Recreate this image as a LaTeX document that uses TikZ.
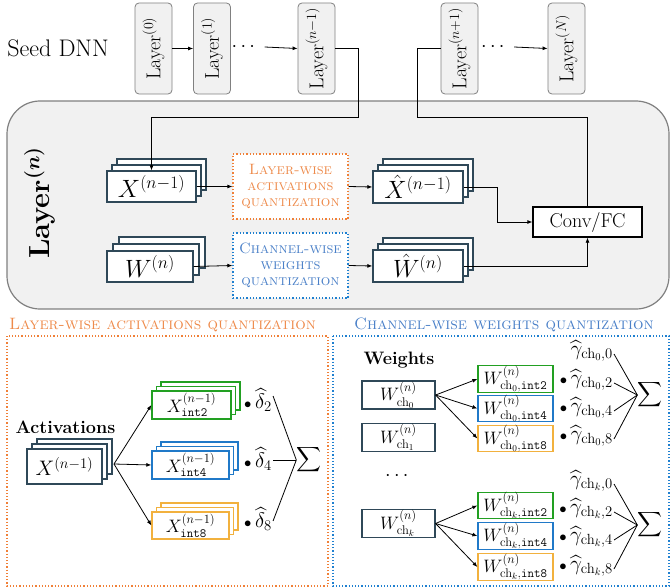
\RequirePackage{fix-cm}
\documentclass[tikz,border=0pt]{standalone}
\usepackage{amsmath}
\usepackage{graphicx}
\usetikzlibrary{arrows.meta,shadows}
\definecolor{slate}{HTML}{2F4858}
\definecolor{grn}{HTML}{22A022}
\definecolor{blu}{HTML}{2079C8}
\definecolor{ylw}{HTML}{F2B13E}
\definecolor{orgtxt}{HTML}{EE8A4A}
\definecolor{blutxt}{HTML}{4A80C8}
\definecolor{orgdot}{HTML}{F08038}
\definecolor{bludot}{HTML}{1F80D0}
\definecolor{bgray}{HTML}{F1F1F1}
\definecolor{lgray}{HTML}{808080}
\tikzset{
  fsz/.style={font=\fontsize{#1}{#1}\selectfont},
  con/.style={line width=0.8pt, -{Latex[length=5pt,width=4pt]}},
  plain/.style={line width=0.8pt},
  lay/.style={draw=lgray, fill=bgray, rounded corners=4pt, minimum width=37pt,
    minimum height=91pt, inner sep=0pt, line width=0.8pt},
  stk/.style n args={3}{draw=#1, fill=white, line width=1.3pt, inner sep=0pt,
    general shadow={shadow xshift=#2*2, shadow yshift=#3*2, fill=white, draw=#1, line width=1.3pt},
    general shadow={shadow xshift=#2, shadow yshift=#3, fill=white, draw=#1, line width=1.3pt}},
  qbox/.style={draw=#1, dotted, line width=1.3pt, fill=white, minimum width=115pt,
    minimum height=65pt, inner sep=0pt, align=center,
    font=\fontsize{15}{16}\selectfont\scshape},
  wbox/.style={draw=#1, fill=white, line width=1.2pt, minimum width=75pt,
    minimum height=26pt, inner sep=0pt, font=\fontsize{18}{18}\selectfont},
  lab/.style={inner sep=0pt, font=\fontsize{21}{21}\selectfont},
  sig/.style={inner sep=0pt, font=\fontsize{18}{18}\selectfont},
}
\newcommand{\laytxt}[1]{\rotatebox{90}{\fontsize{20}{20}\selectfont Layer$^{(#1)}$}}
\newcommand{\mydot}{{\scriptstyle\bullet}\,}
\begin{document}
\begin{tikzpicture}[x=1pt,y=-1pt]
\useasboundingbox (0,0) rectangle (671,588);
% ---------- top row ----------
\node[fsz=24] (seed) at (58,48) {Seed DNN};
\node[lay] (L0) at (153.5,48.5) {\laytxt{0}};
\node[lay] (L1) at (212,48.5) {\laytxt{1}};
\node[fsz=20, inner sep=0pt] (dA) at (245,47) {$\cdots$};
\node[lay] (Lm) at (316.5,48.5) {\laytxt{n-1}};
\node[lay] (Lp) at (459.5,48.5) {\laytxt{n+1}};
\node[fsz=20, inner sep=0pt] (dB) at (494.5,47) {$\cdots$};
\node[lay] (LN) at (566.5,48.5) {\laytxt{N}};
\draw[con] (L0) -- (L1);
\draw[con] (dA.east) ++(6,0) -- (Lm.west);
\draw[con] (dB.east) ++(6,0) -- (LN.west);
% ---------- layer (n) ----------
\draw[draw=lgray, fill=bgray, line width=1.2pt, rounded corners=33pt] (7,101) rectangle (669,309);
\node (lname) at (40,203) {\rotatebox{90}{\fontsize{29}{29}\selectfont\bfseries\boldmath Layer$^{(n)}$}};
\node[stk={slate}{5pt}{6pt}, minimum width=89pt, minimum height=31pt, fsz=25] (X) at (151.5,186.5) {$X^{(n-1)}$};
\node[stk={slate}{6pt}{7pt}, minimum width=86pt, minimum height=31pt, fsz=25] (W) at (150,266.5) {$W^{(n)}$};
\node[qbox=orgdot, text=orgtxt] (ob) at (290.5,186.5) {Layer-wise\\activations\\quantization};
\node[qbox=bludot, text=blutxt] (bb) at (290.5,265.5) {Channel-wise\\weights\\quantization};
\node[stk={slate}{5pt}{6pt}, minimum width=90pt, minimum height=32pt, fsz=25] (Xh) at (418,187) {$\hat{X}^{(n-1)}$};
\node[stk={slate}{5pt}{6pt}, minimum width=90pt, minimum height=32pt, fsz=25] (Wh) at (418,266) {$\hat{W}^{(n)}$};
\node[draw=black, fill=white, line width=1.3pt, minimum width=109pt, minimum height=30pt, inner sep=0pt, fsz=20] (conv) at (587.5,222) {Conv/FC};
\coordinate (j1) at (358,117);
\coordinate (j2) at (417,117);
\coordinate (j3) at (497,187);
\draw[con] (Lm.east) -| (j1) -| (X.north);
\draw[plain] (Lp.west) -| (j2) -| (conv.north);
\draw[con] (X.east) -- (ob.west);
\draw[con] (ob.east) -- (Xh.west);
\draw[con] (W.east) -- (bb.west);
\draw[con] (bb.east) -- (Wh.west);
\draw[con] (Xh.east) -- (j3) |- (conv.west);
\draw[con] (Wh.east) -| (conv.south);
% ---------- activations panel ----------
\draw[draw=orgdot, dotted, line width=1.2pt] (7,336) rectangle (328,586);
\node[text=orgtxt, font=\fontsize{16.5}{17}\selectfont\scshape] (t1) at (162.5,325) {Layer-wise activations quantization};
\node[font=\fontsize{18}{18}\selectfont\bfseries] (act) at (65.5,427) {Activations};
\node[stk={slate}{5pt}{5pt}, minimum width=75pt, minimum height=35pt, fsz=21] (Xs) at (64.5,466.5) {$X^{(n-1)}$};
\node[stk={grn}{4.5pt}{4.5pt}, minimum width=79pt, minimum height=28pt, fsz=18] (X2) at (191.5,405) {$X^{(n-1)}_{\mathtt{int2}}$};
\node[stk={blu}{4.5pt}{4.5pt}, minimum width=77pt, minimum height=28pt, fsz=18] (X4) at (190.5,465) {$X^{(n-1)}_{\mathtt{int4}}$};
\node[stk={ylw}{4.5pt}{4.5pt}, minimum width=77pt, minimum height=27pt, fsz=18] (X8) at (190.5,525.5) {$X^{(n-1)}_{\mathtt{int8}}$};
\coordinate (fk) at (114,464);
\draw[con] (fk) -- (X2.west);
\draw[con] (fk) -- (X4.west);
\draw[con] (fk) -- (X8.west);
\node[lab, anchor=west] (d2) at (244,400) {$\mydot\widehat{\delta}_2$};
\node[lab, anchor=west] (d4) at (244,459) {$\mydot\widehat{\delta}_4$};
\node[lab, anchor=west] (d8) at (244,519) {$\mydot\widehat{\delta}_8$};
\node[sig] (s1) at (309,460) {$\displaystyle\sum$};
\draw[plain] ([xshift=1pt,yshift=4pt]d2.east) -- (s1.west);
\draw[plain] ([xshift=1pt,yshift=-1pt]d4.east) -- (s1.west);
\draw[plain] ([xshift=1pt,yshift=-2pt]d8.east) -- (s1.west);
% ---------- weights panel ----------
\draw[draw=bludot, dotted, line width=1.2pt] (333,336) rectangle (669,586);
\node[text=blutxt, font=\fontsize{16.5}{17}\selectfont\scshape] (t2) at (504,325) {Channel-wise weights quantization};
\node[font=\fontsize{18}{18}\selectfont\bfseries] (wt) at (399,360) {Weights};
\node[wbox=slate, minimum width=73pt, minimum height=28pt] (c0) at (398.5,395) {$W^{(n)}_{\mathrm{ch}_0}$};
\node[wbox=slate, minimum width=73pt, minimum height=28pt] (c1) at (398.5,437.5) {$W^{(n)}_{\mathrm{ch}_1}$};
\node[fsz=20, inner sep=0pt] (dC) at (398.5,476) {$\cdots$};
\node[wbox=slate, minimum width=73pt, minimum height=28pt] (ck) at (398.5,523.5) {$W^{(n)}_{\mathrm{ch}_k}$};
\node[wbox=grn] (g0) at (515.5,379) {$W^{(n)}_{\mathrm{ch}_0,\mathtt{int2}}$};
\node[wbox=blu] (b0) at (515.5,408.5) {$W^{(n)}_{\mathrm{ch}_0,\mathtt{int4}}$};
\node[wbox=ylw] (y0) at (515.5,438.5) {$W^{(n)}_{\mathrm{ch}_0,\mathtt{int8}}$};
\node[wbox=grn] (gk) at (515.5,505.5) {$W^{(n)}_{\mathrm{ch}_k,\mathtt{int2}}$};
\node[wbox=blu] (bk) at (515.5,536) {$W^{(n)}_{\mathrm{ch}_k,\mathtt{int4}}$};
\node[wbox=ylw] (yk) at (515.5,567) {$W^{(n)}_{\mathrm{ch}_k,\mathtt{int8}}$};
\draw[con] (c0.east) -- (g0.west);
\draw[con] (c0.east) -- (b0.west);
\draw[con] (c0.east) -- (y0.west);
\draw[con] (ck.east) -- (gk.west);
\draw[con] (ck.east) -- (bk.west);
\draw[con] (ck.east) -- (yk.west);
\node[lab, anchor=east] (p00) at (613,351) {$\widehat{\gamma}_{\mathrm{ch}_0,0}$};
\node[lab, anchor=east] (p02) at (613,380) {$\mydot\widehat{\gamma}_{\mathrm{ch}_0,2}$};
\node[lab, anchor=east] (p04) at (613,408) {$\mydot\widehat{\gamma}_{\mathrm{ch}_0,4}$};
\node[lab, anchor=east] (p08) at (613,436) {$\mydot\widehat{\gamma}_{\mathrm{ch}_0,8}$};
\node[sig] (s2) at (650,395) {$\displaystyle\sum$};
\draw[plain] ([xshift=1pt,yshift=-3pt]p00.east) -- (s2.west);
\draw[plain] ([xshift=1pt,yshift=-3pt]p02.east) -- (s2.west);
\draw[plain] ([xshift=1pt,yshift=-3pt]p04.east) -- (s2.west);
\draw[plain] ([xshift=1pt,yshift=-3pt]p08.east) -- (s2.west);
\node[lab, anchor=east] (pk0) at (613,481) {$\widehat{\gamma}_{\mathrm{ch}_k,0}$};
\node[lab, anchor=east] (pk2) at (613,509) {$\mydot\widehat{\gamma}_{\mathrm{ch}_k,2}$};
\node[lab, anchor=east] (pk4) at (613,537) {$\mydot\widehat{\gamma}_{\mathrm{ch}_k,4}$};
\node[lab, anchor=east] (pk8) at (613,566) {$\mydot\widehat{\gamma}_{\mathrm{ch}_k,8}$};
\node[sig] (s3) at (650,525) {$\displaystyle\sum$};
\draw[plain] ([xshift=1pt,yshift=-3pt]pk0.east) -- (s3.west);
\draw[plain] ([xshift=1pt,yshift=-3pt]pk2.east) -- (s3.west);
\draw[plain] ([xshift=1pt,yshift=-3pt]pk4.east) -- (s3.west);
\draw[plain] ([xshift=1pt,yshift=-3pt]pk8.east) -- (s3.west);
\end{tikzpicture}
\end{document}
